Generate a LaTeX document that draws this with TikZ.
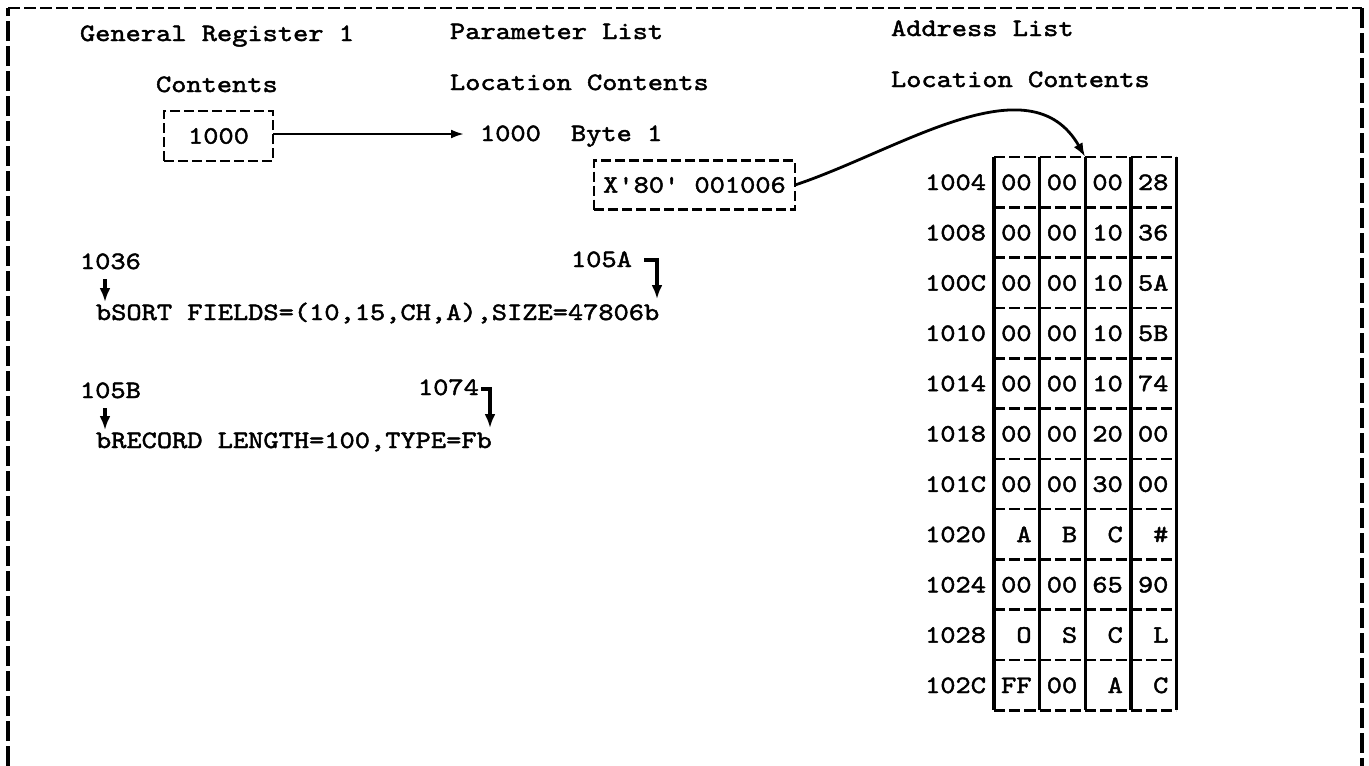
\documentclass[tikz,border=0pt]{standalone}
\usepackage{fontspec}
\newfontfamily\tw{lmmono10-regular.otf}[FakeBold=1.8, FakeStretch=1.16]
\usetikzlibrary{arrows.meta}
\tikzset{
  every node/.style={inner sep=0pt, outer sep=0pt, font=\tw\fontsize{25}{30}\selectfont},
  txt/.style={anchor=base west},
  rowlbl/.style={anchor=base east},
  cellv/.style={anchor=base east},
  dbox/.style={draw, line width=2.4pt, dash pattern=on 10pt off 4pt},
  arr/.style={line width=2.4pt, -{Latex[length=13pt,width=9pt]}},
  carr/.style={line width=2.8pt, -{Latex[length=14pt,width=10pt]}},
  darr/.style={line width=3.2pt, -{Latex[length=14pt,width=11pt]}},
  frameh/.style={line width=2.8pt, dash pattern=on 12pt off 4pt},
  framev/.style={line width=3.4pt, dash pattern=on 20pt off 5pt},
  gridv/.style={line width=3.4pt},
  gridh/.style={line width=2.6pt, dash pattern=on 11.2pt off 4pt}
}
\begin{document}
\begin{tikzpicture}[x=1pt,y=-1pt]
\useasboundingbox (0,0) rectangle (1369,766);
% outer frame
\coordinate (fbl) at (8,766);
\coordinate (ftl) at (8,8);
\coordinate (ftr) at (1362,8);
\coordinate (fbr) at (1362,766);
\draw[framev] (fbl) -- (ftl);
\draw[frameh] (ftl) -- (ftr);
\draw[framev] (ftr) -- (fbr);
% headings
\node[txt] (h1) at (80,41) {General Register 1};
\node[txt] (h2) at (450,39) {Parameter List};
\node[txt] (h3) at (891,36) {Address List};
\node[txt] (s1) at (156,92) {Contents};
\node[txt] (s2) at (450,90) {Location Contents};
\node[txt] (s3) at (891,87) {Location Contents};
% register box
\node[dbox, minimum width=109pt, minimum height=50pt] (regbox) at (218.5,136) {1000};
\node[txt] (loc1000) at (480,141) {1000};
\node[txt] (byte1) at (571,141) {Byte 1};
\coordinate (a0e) at (464,134);
\draw[arr] (regbox.east |- a0e) -- (a0e);
% parameter list box
\node[dbox, minimum width=201pt, minimum height=49pt] (plbox) at (694.5,185) {X'80' 001006};
% text lines
\node[txt] (n1036) at (80,269) {1036};
\node[txt] (l1) at (96,320) {bSORT FIELDS=(10,15,CH,A),SIZE=47806b};
\node[txt] (n105A) at (571,267) {105A};
\node[txt] (n105B) at (80,398) {105B};
\node[txt] (l2) at (96,448) {bRECORD LENGTH=100,TYPE=Fb};
\node[txt] (n1074) at (418,395) {1074};
\coordinate (a1s) at (105,279);
\coordinate (a1e) at (105,302);
\draw[darr] (a1s) -- (a1e);
\coordinate (a2s) at (105,408);
\coordinate (a2e) at (105,430);
\draw[darr] (a2s) -- (a2e);
\coordinate (a3s) at (644,260);
\coordinate (a3e) at (657,299);
\draw[darr] (a3s) -| (a3e);
\coordinate (a4s) at (481,389);
\coordinate (a4e) at (490,428);
\draw[darr] (a4s) -| (a4e);
% address list grid
\foreach \j in {0,...,4} \draw[gridv] (994+45.6*\j,157) -- (994+45.6*\j,710.3);
\foreach \k in {0,...,11} \draw[gridh] (994,157+50.3*\k) -- (1176.4,157+50.3*\k);
\foreach \lab/\a/\b/\c/\d [count=\i from 0] in {
  1004/00/00/00/28, 1008/00/00/10/36, 100C/00/00/10/5A, 1010/00/00/10/5B,
  1014/00/00/10/74, 1018/00/00/20/00, 101C/00/00/30/00, 1020/A/B/C/\#,
  1024/00/00/65/90, 1028/O/S/C/L, 102C/FF/00/A/C}{
  \pgfmathsetmacro\yb{190+50.3*\i}
  \node[rowlbl] (r\i) at (986,\yb) {\lab};
  \node[cellv] (c\i a) at (1031.6,\yb) {\a};
  \node[cellv] (c\i b) at (1077.2,\yb) {\b};
  \node[cellv] (c\i c) at (1122.8,\yb) {\c};
  \node[cellv] (c\i d) at (1168.4,\yb) {\d};
}
\coordinate (gtop) at (1085.2,157);
\draw[carr] (plbox.east) .. controls (900,150) and (1030,60) .. (gtop);
\end{tikzpicture}
\end{document}
